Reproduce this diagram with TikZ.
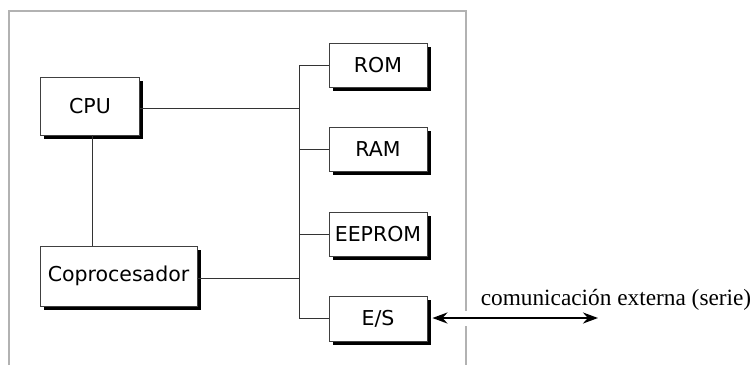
\documentclass[tikz,border=0pt]{standalone}
\usepackage{fontspec}
\setsansfont{DejaVu Sans}
\setmainfont{Liberation Serif}
\usetikzlibrary{shadows,arrows.meta}
\tikzset{
  blk/.style={draw=black!75, fill=white, line width=0.9pt, inner sep=0pt,
    font=\sffamily\fontsize{20.5}{24}\selectfont,
    drop shadow={shadow xshift=3.5pt, shadow yshift=-3.5pt, fill=black, opacity=1}},
  wire/.style={draw=black!80, line width=1pt},
  frame/.style={draw=black!30, line width=2pt},
  ext/.style={line width=2.2pt, {Stealth[length=15pt,width=11pt]}-{Stealth[length=15pt,width=11pt]}},
  lbl/.style={font=\fontsize{23.3}{27}\selectfont, inner sep=0pt}
}
\begin{document}
\begin{tikzpicture}[x=1pt,y=-1pt]
\useasboundingbox[fill=white] (0,0) rectangle (755,365);
% frame
\draw[frame] (9,365) -- (9,11) -- (466,11) -- (466,311);
\draw[frame] (466,326) -- (466,365);
% blocks
\node[blk, minimum width=99pt, minimum height=58pt] (cpu) at (90,106) {CPU};
\node[blk, minimum width=157pt, minimum height=60pt] (cop) at (118.5,276) {Coprocesador};
\node[blk, minimum width=98pt, minimum height=44pt] (rom) at (378,65) {ROM};
\node[blk, minimum width=98pt, minimum height=44pt] (ram) at (378,149) {RAM};
\node[blk, minimum width=98pt, minimum height=44pt] (eep) at (378,234) {EEPROM};
\node[blk, minimum width=98pt, minimum height=45pt] (es) at (378,318.5) {E/S};
% bus
\coordinate (bx) at (299,0);
\draw[wire] (rom.west) -- (rom.west -| bx) -- (es.west -| bx) -- (es.west);
\draw[wire] (ram.west) -- (ram.west -| bx);
\draw[wire] (eep.west) -- (eep.west -| bx);
\draw[wire] ([yshift=-2pt]cpu.east) -- ([yshift=-2pt]cpu.east -| bx);
\draw[wire] ([yshift=-2pt]cop.east) -- ([yshift=-2pt]cop.east -| bx);
\draw[wire] ([xshift=2pt]cpu.south) -- ([xshift=2pt]cpu.south |- cop.north);
% external
\coordinate (xe) at (598,318);
\draw[ext] ([xshift=5pt]es.east |- xe) -- (xe);
\node[lbl] (txt) at (616,300) {comunicación externa (serie)};
\end{tikzpicture}
\end{document}
